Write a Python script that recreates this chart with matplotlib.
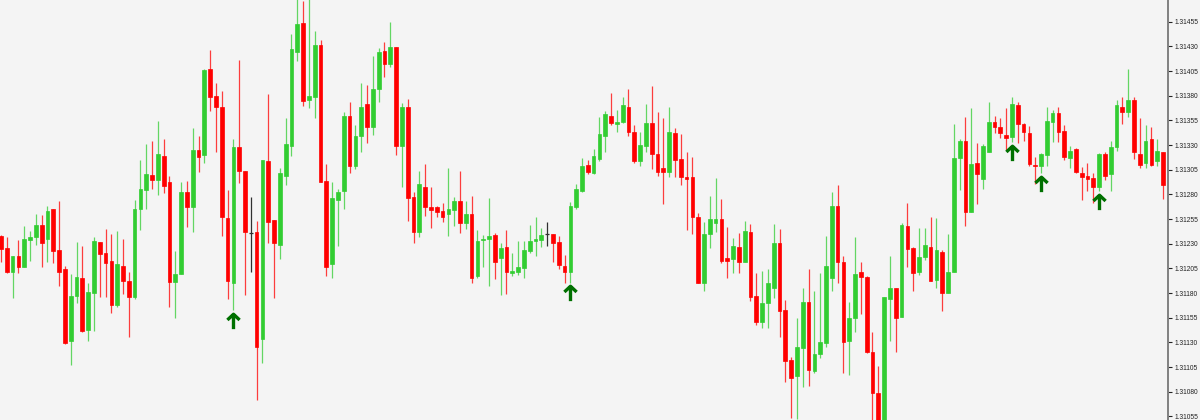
import numpy as np
import matplotlib.pyplot as plt
from matplotlib.path import Path
from matplotlib.markers import MarkerStyle

plt.rcParams['font.family'] = ['Liberation Sans', 'DejaVu Sans']

# OHLC prices, one value per bar (oldest first)
opens = [
    1.31238, 1.31226, 1.31201, 1.31218, 1.31206, 1.31234, 1.31237, 1.31249, 1.31235, 1.31265,
    1.31224, 1.31204, 1.31131, 1.31177, 1.31195, 1.31143, 1.31180, 1.31232, 1.31221, 1.31213,
    1.31168, 1.31207, 1.31192, 1.31176, 1.31265, 1.31284, 1.31300, 1.31295, 1.31319, 1.31293,
    1.31191, 1.31199, 1.31282, 1.31267, 1.31325, 1.31320, 1.31407, 1.31380, 1.31369, 1.31256,
    1.31190, 1.31328, 1.31304, 1.31241, 1.31242, 1.31133, 1.31314, 1.31254, 1.31229, 1.31299,
    1.31329, 1.31424, 1.31454, 1.31376, 1.31379, 1.31431, 1.31294, 1.31209, 1.31274, 1.31283,
    1.31359, 1.31309, 1.31339, 1.31372, 1.31348, 1.31387, 1.31425, 1.31412, 1.31429, 1.31329,
    1.31369, 1.31277, 1.31242, 1.31287, 1.31267, 1.31267, 1.31263, 1.31260, 1.31264, 1.31273,
    1.31251, 1.31260, 1.31197, 1.31234, 1.31235, 1.31239, 1.31216, 1.31227, 1.31200, 1.31201,
    1.31205, 1.31223, 1.31233, 1.31234, 1.31240, 1.31240, 1.31232, 1.31207, 1.31201, 1.31267,
    1.31283, 1.31310, 1.31302, 1.31316, 1.31339, 1.31359, 1.31351, 1.31353, 1.31369, 1.31343,
    1.31314, 1.31329, 1.31352, 1.31321, 1.31307, 1.31303, 1.31342, 1.31316, 1.31298, 1.31298,
    1.31257, 1.31190, 1.31240, 1.31251, 1.31255, 1.31216, 1.31215, 1.31227, 1.31211, 1.31242,
    1.31177, 1.31151, 1.31170, 1.31185, 1.31231, 1.31163, 1.31112, 1.31096, 1.31124, 1.31171,
    1.31101, 1.31118, 1.31129, 1.31195, 1.31268, 1.31211, 1.31131, 1.31155, 1.31201, 1.31196,
    1.31120, 1.31079, 1.31040, 1.31174, 1.31185, 1.31156, 1.31248, 1.31226, 1.31201, 1.31217,
    1.31227, 1.31193, 1.31222, 1.31180, 1.31201, 1.31317, 1.31334, 1.31262, 1.31312, 1.31296,
    1.31323, 1.31353, 1.31348, 1.31340, 1.31338, 1.31371, 1.31351, 1.31342, 1.31310, 1.31309,
    1.31320, 1.31353, 1.31362, 1.31344, 1.31317, 1.31326, 1.31302, 1.31299, 1.31297, 1.31287,
    1.31321, 1.31301, 1.31328, 1.31369, 1.31364, 1.31376, 1.31321, 1.31312, 1.31336, 1.31314,
    1.31323,
]
highs = [
    1.31239, 1.31237, 1.31218, 1.31234, 1.31248, 1.31243, 1.31260, 1.31259, 1.31268, 1.31265,
    1.31273, 1.31207, 1.31199, 1.31232, 1.31228, 1.31190, 1.31237, 1.31232, 1.31245, 1.31240,
    1.31243, 1.31235, 1.31201, 1.31274, 1.31315, 1.31331, 1.31334, 1.31354, 1.31336, 1.31299,
    1.31223, 1.31293, 1.31294, 1.31347, 1.31339, 1.31407, 1.31426, 1.31393, 1.31385, 1.31284,
    1.31336, 1.31416, 1.31304, 1.31277, 1.31253, 1.31315, 1.31382, 1.31254, 1.31307, 1.31357,
    1.31443, 1.31480, 1.31476, 1.31480, 1.31446, 1.31436, 1.31311, 1.31293, 1.31285, 1.31364,
    1.31374, 1.31350, 1.31393, 1.31391, 1.31420, 1.31428, 1.31434, 1.31455, 1.31429, 1.31373,
    1.31377, 1.31282, 1.31304, 1.31311, 1.31287, 1.31268, 1.31271, 1.31307, 1.31277, 1.31304,
    1.31273, 1.31278, 1.31244, 1.31239, 1.31276, 1.31241, 1.31231, 1.31244, 1.31221, 1.31233,
    1.31233, 1.31249, 1.31257, 1.31246, 1.31252, 1.31240, 1.31238, 1.31219, 1.31272, 1.31291,
    1.31317, 1.31315, 1.31326, 1.31358, 1.31365, 1.31383, 1.31366, 1.31379, 1.31387, 1.31350,
    1.31343, 1.31372, 1.31390, 1.31364, 1.31357, 1.31369, 1.31347, 1.31341, 1.31323, 1.31318,
    1.31261, 1.31252, 1.31278, 1.31297, 1.31275, 1.31247, 1.31236, 1.31241, 1.31253, 1.31250,
    1.31200, 1.31202, 1.31204, 1.31250, 1.31245, 1.31173, 1.31115, 1.31155, 1.31185, 1.31204,
    1.31182, 1.31200, 1.31238, 1.31282, 1.31290, 1.31218, 1.31171, 1.31237, 1.31212, 1.31197,
    1.31141, 1.31106, 1.31176, 1.31218, 1.31185, 1.31251, 1.31271, 1.31227, 1.31246, 1.31246,
    1.31257, 1.31256, 1.31224, 1.31240, 1.31351, 1.31336, 1.31358, 1.31368, 1.31332, 1.31331,
    1.31374, 1.31359, 1.31357, 1.31368, 1.31379, 1.31374, 1.31352, 1.31349, 1.31318, 1.31322,
    1.31369, 1.31366, 1.31369, 1.31350, 1.31329, 1.31327, 1.31308, 1.31312, 1.31302, 1.31322,
    1.31323, 1.31334, 1.31376, 1.31379, 1.31407, 1.31379, 1.31357, 1.31350, 1.31348, 1.31336,
    1.31323,
]
lows = [
    1.31211, 1.31200, 1.31175, 1.31200, 1.31206, 1.31213, 1.31229, 1.31206, 1.31211, 1.31210,
    1.31187, 1.31128, 1.31107, 1.31170, 1.31141, 1.31131, 1.31142, 1.31176, 1.31176, 1.31160,
    1.31166, 1.31179, 1.31136, 1.31174, 1.31244, 1.31265, 1.31285, 1.31279, 1.31281, 1.31166,
    1.31155, 1.31199, 1.31247, 1.31242, 1.31303, 1.31312, 1.31365, 1.31323, 1.31238, 1.31174,
    1.31163, 1.31292, 1.31178, 1.31201, 1.31072, 1.31109, 1.31231, 1.31175, 1.31215, 1.31290,
    1.31319, 1.31415, 1.31370, 1.31368, 1.31357, 1.31293, 1.31197, 1.31195, 1.31228, 1.31265,
    1.31302, 1.31306, 1.31323, 1.31332, 1.31340, 1.31374, 1.31399, 1.31409, 1.31320, 1.31287,
    1.31253, 1.31231, 1.31237, 1.31258, 1.31246, 1.31257, 1.31252, 1.31238, 1.31248, 1.31241,
    1.31245, 1.31190, 1.31195, 1.31206, 1.31187, 1.31194, 1.31178, 1.31179, 1.31197, 1.31198,
    1.31195, 1.31221, 1.31218, 1.31227, 1.31228, 1.31211, 1.31204, 1.31190, 1.31190, 1.31265,
    1.31282, 1.31301, 1.31301, 1.31314, 1.31323, 1.31350, 1.31343, 1.31352, 1.31339, 1.31312,
    1.31309, 1.31323, 1.31306, 1.31299, 1.31270, 1.31298, 1.31298, 1.31290, 1.31244, 1.31240,
    1.31190, 1.31182, 1.31226, 1.31242, 1.31210, 1.31195, 1.31200, 1.31200, 1.31211, 1.31172,
    1.31148, 1.31145, 1.31145, 1.31175, 1.31136, 1.31090, 1.31053, 1.31052, 1.31085, 1.31086,
    1.31099, 1.31114, 1.31125, 1.31182, 1.31190, 1.31099, 1.31097, 1.31141, 1.31159, 1.31119,
    1.31045, 1.31035, 1.31035, 1.31131, 1.31120, 1.31156, 1.31206, 1.31182, 1.31198, 1.31214,
    1.31192, 1.31185, 1.31162, 1.31180, 1.31201, 1.31284, 1.31248, 1.31262, 1.31270, 1.31285,
    1.31323, 1.31342, 1.31337, 1.31325, 1.31333, 1.31332, 1.31334, 1.31309, 1.31291, 1.31302,
    1.31309, 1.31333, 1.31333, 1.31315, 1.31307, 1.31302, 1.31274, 1.31283, 1.31271, 1.31283,
    1.31295, 1.31283, 1.31324, 1.31351, 1.31358, 1.31316, 1.31307, 1.31307, 1.31309, 1.31309,
    1.31275,
]
closes = [
    1.31225, 1.31201, 1.31218, 1.31206, 1.31235, 1.31237, 1.31249, 1.31231, 1.31263, 1.31223,
    1.31201, 1.31129, 1.31177, 1.31196, 1.31142, 1.31181, 1.31233, 1.31220, 1.31210, 1.31168,
    1.31209, 1.31192, 1.31176, 1.31265, 1.31285, 1.31301, 1.31295, 1.31321, 1.31289, 1.31191,
    1.31199, 1.31282, 1.31267, 1.31325, 1.31318, 1.31406, 1.31379, 1.31369, 1.31257, 1.31192,
    1.31328, 1.31304, 1.31242, 1.31241, 1.31125, 1.31315, 1.31252, 1.31231, 1.31302, 1.31331,
    1.31427, 1.31453, 1.31375, 1.31380, 1.31431, 1.31293, 1.31206, 1.31276, 1.31282, 1.31359,
    1.31309, 1.31339, 1.31369, 1.31348, 1.31387, 1.31424, 1.31412, 1.31429, 1.31329, 1.31369,
    1.31276, 1.31242, 1.31291, 1.31267, 1.31264, 1.31262, 1.31257, 1.31265, 1.31273, 1.31251,
    1.31260, 1.31195, 1.31233, 1.31235, 1.31238, 1.31211, 1.31226, 1.31201, 1.31202, 1.31206,
    1.31224, 1.31233, 1.31235, 1.31239, 1.31240, 1.31231, 1.31208, 1.31201, 1.31268, 1.31285,
    1.31309, 1.31303, 1.31319, 1.31341, 1.31361, 1.31352, 1.31353, 1.31371, 1.31343, 1.31314,
    1.31330, 1.31352, 1.31321, 1.31303, 1.31303, 1.31343, 1.31315, 1.31298, 1.31296, 1.31257,
    1.31190, 1.31240, 1.31255, 1.31255, 1.31213, 1.31213, 1.31228, 1.31211, 1.31243, 1.31176,
    1.31151, 1.31170, 1.31190, 1.31231, 1.31162, 1.31111, 1.31094, 1.31125, 1.31171, 1.31102,
    1.31118, 1.31130, 1.31207, 1.31268, 1.31211, 1.31130, 1.31155, 1.31199, 1.31196, 1.31120,
    1.31079, 1.31040, 1.31176, 1.31185, 1.31155, 1.31249, 1.31225, 1.31200, 1.31217, 1.31229,
    1.31192, 1.31224, 1.31180, 1.31201, 1.31317, 1.31334, 1.31262, 1.31311, 1.31301, 1.31329,
    1.31353, 1.31348, 1.31342, 1.31337, 1.31372, 1.31351, 1.31343, 1.31311, 1.31309, 1.31321,
    1.31354, 1.31362, 1.31343, 1.31318, 1.31324, 1.31303, 1.31298, 1.31296, 1.31287, 1.31321,
    1.31299, 1.31328, 1.31371, 1.31364, 1.31376, 1.31323, 1.31310, 1.31334, 1.31310, 1.31324,
    1.31290,
]

# buy signal arrows (bar index, price level)
signal_bars = [40, 98, 174, 179, 189]
signal_prices = [1.31152, 1.31180, 1.31322, 1.31291, 1.31272]

price_ticks = [1.31055 + 0.00025 * k for k in range(17)]

o = np.array(opens)
h = np.array(highs)
l = np.array(lows)
c = np.array(closes)
idx = np.arange(len(o))
up = c > o
down = c < o
flat = c == o

GREEN = '#32cd32'
RED = '#ff0000'
BG = '#f4f4f4'

fig = plt.figure(figsize=(12, 4.2), dpi=100, facecolor=BG)
ax = fig.add_axes([0, 0, 1168 / 1200, 1])
ax.set_facecolor(BG)

# wicks
ax.vlines(idx[up], l[up], h[up], color=GREEN, lw=0.9, alpha=0.75)
ax.vlines(idx[down], l[down], h[down], color=RED, lw=0.9, alpha=0.75)
ax.vlines(idx[flat], l[flat], h[flat], color='#303030', lw=0.9)

# bodies
w = 0.64
ax.bar(idx[up], c[up] - o[up], bottom=o[up], width=w, color=GREEN,
       edgecolor=GREEN, lw=0.5)
ax.bar(idx[down], o[down] - c[down], bottom=c[down], width=w, color=RED,
       edgecolor=RED, lw=0.5)
ax.hlines(c[flat], idx[flat] - 0.35, idx[flat] + 0.35, color='#303030', lw=0.9)

# arrows
arrow = Path([(0, -1), (0, 0.95), (-0.8, 0.2), (0, 0.95), (0.8, 0.2)],
             [Path.MOVETO, Path.LINETO, Path.MOVETO, Path.LINETO, Path.LINETO])
ax.plot(signal_bars, signal_prices, ls='none',
        marker=MarkerStyle(arrow, joinstyle='miter'), ms=11,
        mfc='none', mec='#007000', mew=2.4)

ax.set_xlim(-0.17, 200.86)
ax.set_ylim(1.310514, 1.31477)

for side in ['top', 'left', 'bottom']:
    ax.spines[side].set_visible(False)
ax.spines['right'].set_color('#808080')
ax.spines['right'].set_linewidth(1.4)

ax.set_xticks([])
ax.yaxis.tick_right()
ax.set_yticks(price_ticks)
ax.set_yticklabels(['%.5f' % p for p in price_ticks])
ax.tick_params(axis='y', length=3, width=0.8, colors='#222222',
               labelsize=4.8, pad=1.5)

fig.savefig('out.png', dpi=100, facecolor=BG)
